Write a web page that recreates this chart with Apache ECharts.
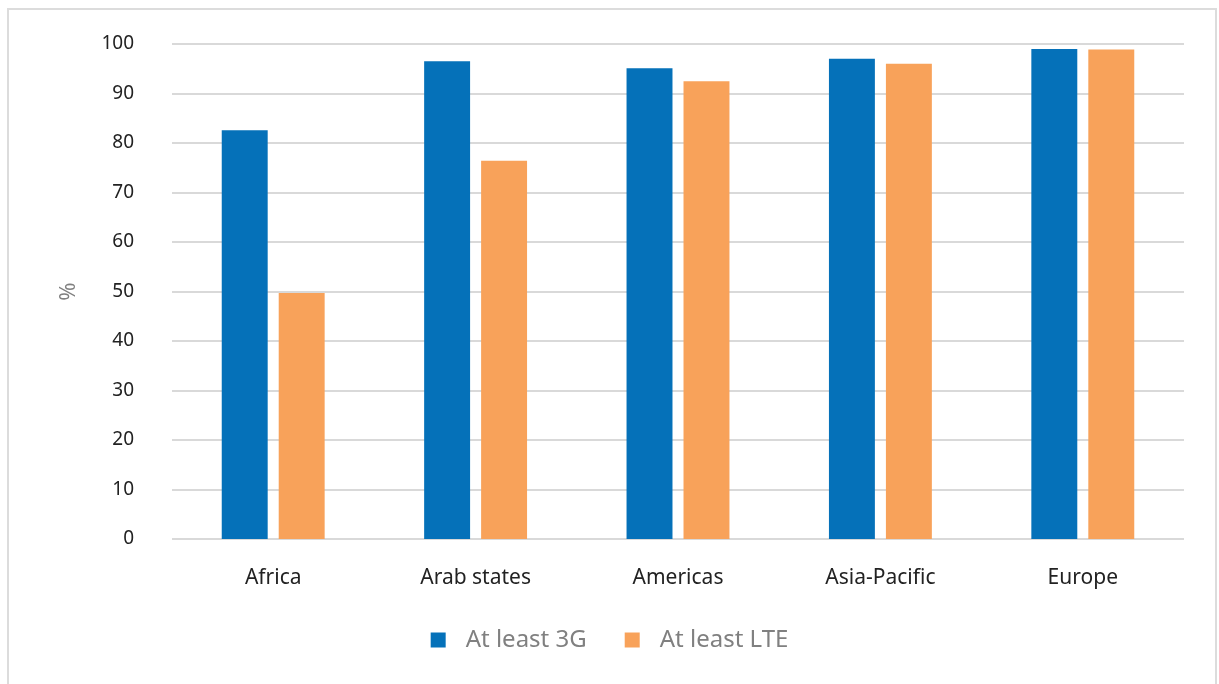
<!DOCTYPE html>
<html><head><meta charset="utf-8">
<script src="https://cdn.jsdelivr.net/npm/echarts@6/dist/echarts.min.js"></script>
<style>
html,body{margin:0;padding:0;background:#fff;}
#frame{position:absolute;left:7px;top:8px;width:1210px;height:690px;border:2px solid #dcdcdc;box-sizing:border-box;}
#c{position:absolute;left:0;top:0;width:1219px;height:684px;}
</style></head>
<body>
<div id="frame"></div>
<div id="c"></div>
<script>
const categories = ['Africa','Arab states','Americas','Asia-Pacific','Europe'];
const seriesNames = ['At least 3G','At least LTE'];
const values3G = [82.6, 96.5, 95.1, 97.0, 99.0];
const valuesLTE = [49.7, 76.4, 92.5, 96.0, 98.9];
const yTicks = {min:0, max:100, interval:10};
const colors = ['#0571b9','#f8a25a'];

const chart = echarts.init(document.getElementById('c'), null, {renderer:'canvas'});
const font = '"Noto Sans", sans-serif';
chart.setOption({
  animation:false,
  textStyle:{fontFamily:font},
  grid:{left:172, right:35, top:44, bottom:145},
  legend:{
    data:seriesNames, top:623, left:'center', itemWidth:15, itemHeight:15, itemGap:38,
    icon:'rect',
    textStyle:{color:'#808080', fontSize:24, fontFamily:font, padding:[0,0,0,15]}
  },
  xAxis:{
    type:'category', data:categories,
    axisLine:{show:false}, axisTick:{show:false},
    axisLabel:{color:'#222', fontSize:21, margin:29, fontFamily:font}
  },
  yAxis:{
    type:'value', min:yTicks.min, max:yTicks.max, interval:yTicks.interval,
    name:'%', nameLocation:'middle', nameGap:92, nameRotate:90,
    nameTextStyle:{color:'#808080', fontSize:22, fontFamily:font},
    axisLine:{show:false}, axisTick:{show:false},
    axisLabel:{color:'#222', fontSize:19, margin:38, fontFamily:font},
    splitLine:{lineStyle:{color:'#d9d9d9', width:2}}
  },
  series:[
    {name:seriesNames[0], type:'bar', data:values3G, barWidth:'22.7%', barGap:'24%', itemStyle:{color:colors[0]}},
    {name:seriesNames[1], type:'bar', data:valuesLTE, barWidth:'22.7%', barGap:'24%', itemStyle:{color:colors[1]}}
  ]
});
</script>
</body></html>
